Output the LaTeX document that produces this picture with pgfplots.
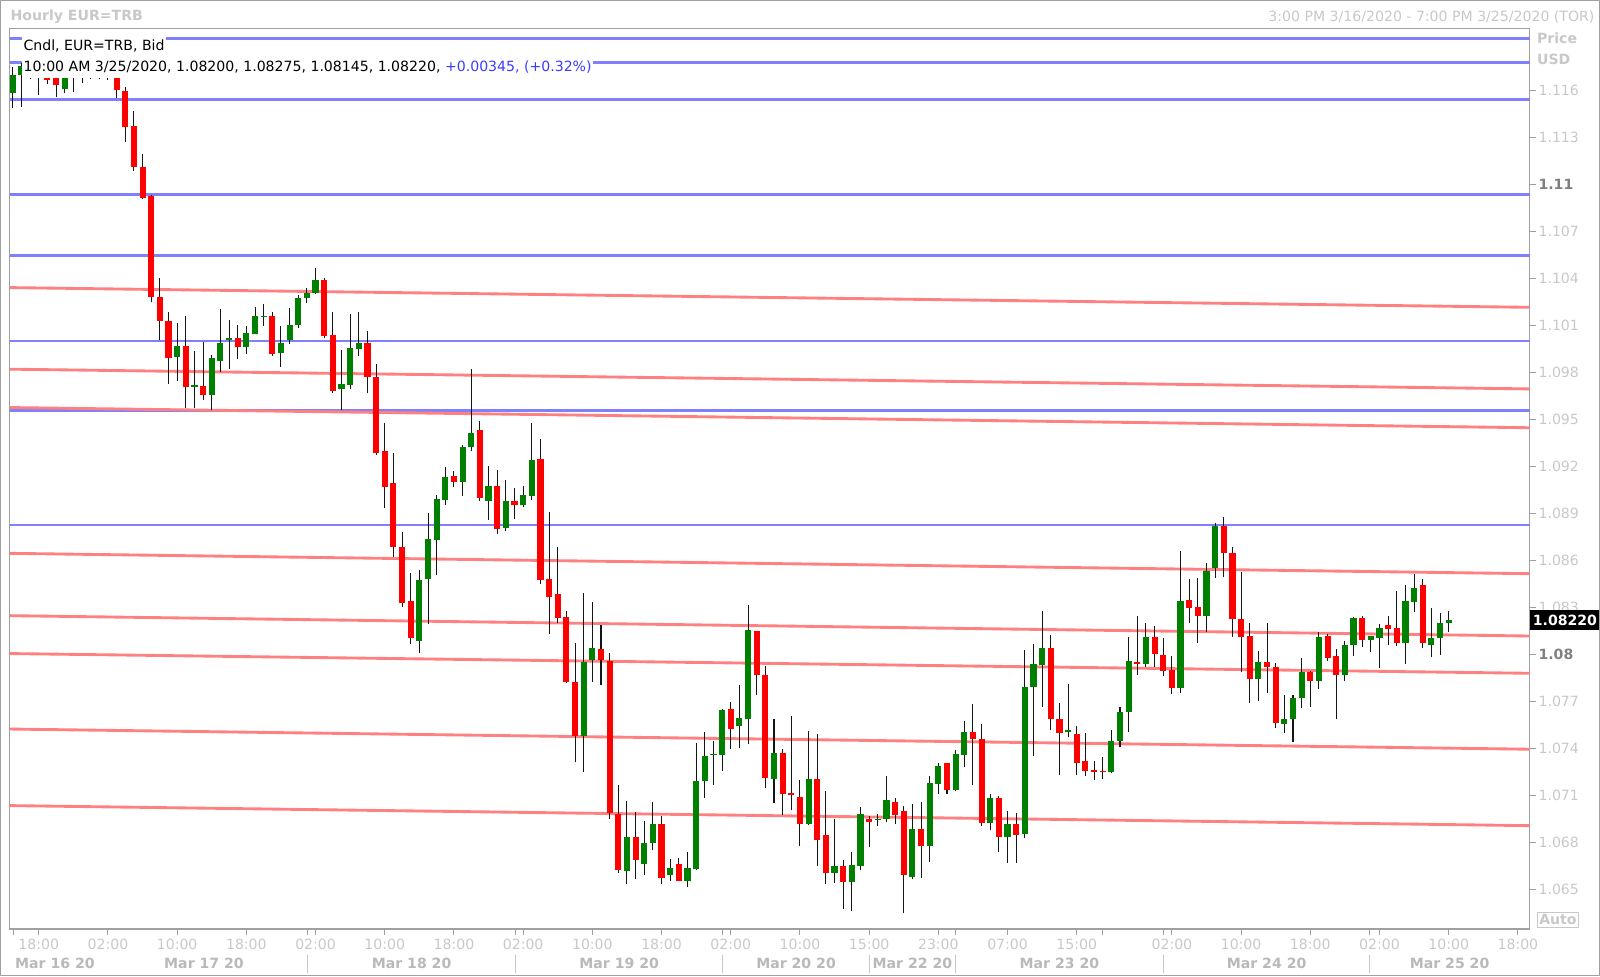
\documentclass[border=0pt]{standalone}
\usepackage{fontspec}
\setmainfont{DejaVu Sans}
\usepackage{pgfplots}
\usepackage{pgfplotstable}
\pgfplotsset{compat=1.18}

\definecolor{upc}{RGB}{0,128,0}
\definecolor{dnc}{RGB}{255,0,0}
\definecolor{wickc}{RGB}{20,20,20}
\definecolor{bline}{RGB}{128,128,255}
\definecolor{rline}{RGB}{255,128,128}
\definecolor{frame}{RGB}{160,160,160}
\definecolor{lbl}{RGB}{200,200,200}
\definecolor{lbldark}{RGB}{128,128,128}
\definecolor{datelbl}{RGB}{185,185,185}
\definecolor{pct}{RGB}{60,60,255}
\newcommand\fs{\fontsize{6.9pt}{8.3pt}\selectfont}

% hourly candles, i = hour index (0 = 18:00 Mar 16)
\pgfplotstableread{
i o h l c
-3 1.11588 1.11750 1.11493 1.11699
-2 1.11700 1.11780 1.11499 1.11755
-1 1.11720 1.11780 1.11677 1.11740
3 1.11610 1.11720 1.11585 1.11700
4 1.11700 1.11730 1.11589 1.11710
5 1.11710 1.11740 1.11649 1.11720
7 1.11710 1.11740 1.11677 1.11720
16 1.09901 1.10120 1.09747 1.09967
18 1.09711 1.09939 1.09571 1.09718
20 1.09658 1.09913 1.09562 1.09892
21 1.09877 1.10205 1.09807 1.09992
22 1.10009 1.10137 1.09822 1.10020
24 1.09962 1.10098 1.09919 1.10051
25 1.10047 1.10217 1.10045 1.10162
26 1.10158 1.10237 1.10100 1.10164
28 1.09928 1.10100 1.09839 1.09992
29 1.10009 1.10211 1.09981 1.10105
30 1.10105 1.10296 1.10088 1.10275
31 1.10275 1.10339 1.10243 1.10311
32 1.10307 1.10467 1.10301 1.10392
35 1.09694 1.09945 1.09562 1.09728
36 1.09721 1.10175 1.09694 1.09956
37 1.09949 1.10190 1.09907 1.09992
44 1.08088 1.08540 1.08008 1.08476
45 1.08480 1.08903 1.08195 1.08737
46 1.08734 1.09017 1.08510 1.08993
47 1.08989 1.09196 1.08957 1.09132
49 1.09102 1.09340 1.09015 1.09323
50 1.09323 1.09820 1.09298 1.09415
52 1.08983 1.09202 1.08861 1.09078
54 1.08808 1.09117 1.08787 1.08981
56 1.08957 1.09074 1.08940 1.09017
57 1.09015 1.09479 1.08989 1.09245
63 1.07477 1.08393 1.07250 1.07950
64 1.07963 1.08335 1.07825 1.08042
68 1.06615 1.07062 1.06536 1.06835
70 1.06662 1.06939 1.06594 1.06796
71 1.06796 1.07058 1.06749 1.06920
73 1.06594 1.06696 1.06551 1.06639
75 1.06551 1.06739 1.06515 1.06639
76 1.06632 1.07437 1.06626 1.07192
77 1.07190 1.07505 1.07086 1.07352
78 1.07356 1.07448 1.07165 1.07363
79 1.07360 1.07654 1.07256 1.07644
81 1.07541 1.07803 1.07403 1.07595
82 1.07586 1.08318 1.07426 1.08154
85 1.07203 1.07590 1.07054 1.07373
89 1.06915 1.07509 1.06909 1.07203
92 1.06605 1.06952 1.06541 1.06649
94 1.06547 1.06739 1.06362 1.06658
95 1.06649 1.07026 1.06622 1.06979
97 1.06941 1.06979 1.06905 1.06952
98 1.06947 1.07224 1.06930 1.07069
101 1.06579 1.07043 1.06568 1.06888
103 1.06777 1.07224 1.06675 1.07179
104 1.07171 1.07309 1.07111 1.07288
106 1.07133 1.07388 1.07126 1.07362
107 1.07360 1.07575 1.07282 1.07505
110 1.06926 1.07111 1.06877 1.07084
112 1.06835 1.06998 1.06671 1.06920
114 1.06856 1.08027 1.06828 1.07793
115 1.07793 1.08069 1.07352 1.07937
116 1.07931 1.08276 1.07665 1.08044
119 1.07505 1.07814 1.07473 1.07516
124 1.07247 1.07518 1.07241 1.07448
125 1.07450 1.07667 1.07411 1.07635
126 1.07635 1.08114 1.07507 1.07959
128 1.07939 1.08199 1.07922 1.08114
132 1.07788 1.08661 1.07756 1.08344
135 1.08246 1.08587 1.08146 1.08536
136 1.08550 1.08842 1.08491 1.08821
141 1.07844 1.08025 1.07705 1.07950
144 1.07556 1.07741 1.07501 1.07586
145 1.07586 1.07741 1.07443 1.07720
146 1.07720 1.07976 1.07656 1.07890
148 1.07833 1.08146 1.07778 1.08114
151 1.07869 1.08086 1.07831 1.08061
152 1.08059 1.08240 1.07991 1.08235
154 1.08091 1.08120 1.08018 1.08118
155 1.08108 1.08197 1.07916 1.08167
158 1.08071 1.08444 1.07937 1.08342
159 1.08338 1.08512 1.08274 1.08427
161 1.08059 1.08295 1.07986 1.08103
162 1.08108 1.08267 1.07997 1.08203
163 1.08200 1.08275 1.08145 1.08220
}\up

\pgfplotstableread{
i o h l c
0 1.11730 1.11770 1.11572 1.11710
1 1.11720 1.11745 1.11642 1.11670
2 1.11700 1.11720 1.11563 1.11636
6 1.11720 1.11750 1.11677 1.11710
8 1.11720 1.11740 1.11670 1.11700
9 1.11700 1.11720 1.11555 1.11602
10 1.11597 1.11621 1.11274 1.11370
11 1.11372 1.11472 1.11089 1.11114
12 1.11114 1.11195 1.10908 1.10912
13 1.10929 1.10935 1.10248 1.10280
14 1.10284 1.10407 1.10009 1.10131
15 1.10131 1.10188 1.09730 1.09896
17 1.09967 1.10162 1.09571 1.09711
19 1.09717 1.09998 1.09626 1.09658
23 1.10020 1.10105 1.09890 1.09962
27 1.10162 1.10186 1.09907 1.09917
33 1.10392 1.10403 1.10020 1.10034
34 1.10041 1.10190 1.09668 1.09683
38 1.09992 1.10068 1.09668 1.09775
39 1.09775 1.09856 1.09274 1.09289
40 1.09302 1.09481 1.08934 1.09072
41 1.09098 1.09289 1.08625 1.08685
42 1.08685 1.08785 1.08301 1.08331
43 1.08344 1.08519 1.08067 1.08108
48 1.09138 1.09170 1.09068 1.09102
51 1.09432 1.09494 1.08981 1.08997
53 1.09078 1.09181 1.08770 1.08804
55 1.08978 1.09064 1.08868 1.08953
58 1.09249 1.09379 1.08453 1.08478
59 1.08482 1.08910 1.08131 1.08367
60 1.08387 1.08685 1.08201 1.08233
61 1.08240 1.08276 1.07820 1.07825
62 1.07825 1.08074 1.07311 1.07477
65 1.08035 1.08186 1.07807 1.07963
66 1.07957 1.08010 1.06952 1.06988
67 1.06981 1.07169 1.06605 1.06622
69 1.06835 1.06994 1.06568 1.06690
72 1.06920 1.06969 1.06536 1.06575
74 1.06664 1.06703 1.06551 1.06555
80 1.07654 1.07697 1.07399 1.07526
83 1.08148 1.08150 1.07739 1.07867
84 1.07867 1.07927 1.07147 1.07213
86 1.07373 1.07394 1.06977 1.07111
87 1.07116 1.07607 1.07005 1.07101
88 1.07090 1.07201 1.06775 1.06915
90 1.07203 1.07490 1.06649 1.06813
91 1.06845 1.07126 1.06532 1.06605
93 1.06649 1.06686 1.06377 1.06547
96 1.06952 1.06969 1.06771 1.06930
99 1.07058 1.07084 1.06920 1.06973
100 1.06998 1.07033 1.06351 1.06594
102 1.06888 1.07058 1.06573 1.06777
105 1.07307 1.07310 1.07111 1.07137
108 1.07505 1.07686 1.07164 1.07463
109 1.07458 1.07558 1.06905 1.06926
111 1.07084 1.07096 1.06739 1.06835
113 1.06920 1.06988 1.06671 1.06849
117 1.08044 1.08123 1.07516 1.07586
118 1.07586 1.07692 1.07228 1.07501
120 1.07494 1.07543 1.07228 1.07309
121 1.07318 1.07501 1.07222 1.07256
122 1.07265 1.07318 1.07196 1.07250
123 1.07256 1.07348 1.07203 1.07248
127 1.07954 1.08246 1.07869 1.07939
129 1.08114 1.08184 1.07922 1.08001
130 1.07997 1.08103 1.07865 1.07895
131 1.07901 1.07991 1.07748 1.07788
133 1.08348 1.08480 1.08199 1.08295
134 1.08306 1.08487 1.08076 1.08246
137 1.08821 1.08880 1.08497 1.08650
138 1.08650 1.08685 1.08114 1.08225
139 1.08225 1.08529 1.07886 1.08114
140 1.08120 1.08199 1.07692 1.07844
142 1.07950 1.08199 1.07756 1.07918
143 1.07922 1.07944 1.07529 1.07560
147 1.07890 1.07892 1.07667 1.07833
149 1.08118 1.08130 1.07959 1.07976
150 1.07991 1.08033 1.07586 1.07869
153 1.08235 1.08246 1.08048 1.08091
156 1.08186 1.08246 1.08059 1.08161
157 1.08167 1.08406 1.08054 1.08076
160 1.08442 1.08480 1.08044 1.08071
}\down

\pgfplotsset{
  wick/.style={only marks, mark size=0pt, mark options={draw=none, fill=none},
    error bars/.cd, y dir=plus, y explicit,
    error mark=none, error bar style={line width=0.5pt, draw=wickc}},
  body/.style={only marks, mark size=0pt, mark options={draw=none, fill=none},
    error bars/.cd, y dir=plus, y explicit,
    error mark=none, error bar style={line width=3pt, draw=#1}},
}

\begin{document}
\begin{tikzpicture}[
  dl/.style={font=\fs\bfseries, text=datelbl, anchor=center, yshift=-16.8pt},
  sep/.style={draw=lbl, line width=0.5pt}]
\begin{axis}[
  scale only axis, width=744.25pt, height=441.15pt,
  xmin=-3.36, xmax=172.35, ymin=1.06246, ymax=1.11999,
  clip=false,
  axis line style={draw=frame, line width=0.75pt},
  xtick pos=left, ytick pos=right, yticklabel pos=right,
  tick align=outside, major tick length=3pt,
  every tick/.style={draw=frame, line width=0.5pt},
  xtick={-2.9,0,8,16,24,31.1,32,40,48,55.1,56,64,72,79.1,80,88,96,104,106,112,120,123,130,131,139,147,153.9,155,163,171},
  xticklabels={,18:00,02:00,10:00,18:00,,02:00,10:00,18:00,,02:00,10:00,18:00,,02:00,10:00,15:00,23:00,,07:00,15:00,,,02:00,10:00,18:00,,02:00,10:00,18:00},
  ytick={1.065,1.068,1.071,1.074,1.077,1.08,1.083,1.086,1.089,1.092,1.095,1.098,1.101,1.104,1.107,1.11,1.113,1.116},
  yticklabels={1.065,1.068,1.071,1.074,1.077,{\bfseries\textcolor{lbldark}{1.08}},1.083,1.086,1.089,1.092,1.095,1.098,1.101,1.104,1.107,{\bfseries\textcolor{lbldark}{1.11}},1.113,1.116},
  tick label style={font=\fs, text=lbl},
  xticklabel style={anchor=center, yshift=-4.6pt},
  yticklabel style={anchor=west, inner xsep=0pt, xshift=1.2pt},
]
% horizontal levels
\addplot[bline, line width=1.4pt] coordinates {(-3.36,1.11933) (172.35,1.11933)};
\addplot[bline, line width=1.4pt] coordinates {(-3.36,1.11780) (172.35,1.11780)};
\addplot[bline, line width=1.4pt] coordinates {(-3.36,1.11546) (172.35,1.11546)};
\addplot[bline, line width=1.4pt] coordinates {(-3.36,1.10940) (172.35,1.10940)};
\addplot[bline, line width=1.4pt] coordinates {(-3.36,1.10546) (172.35,1.10546)};
\addplot[bline, line width=1.4pt] coordinates {(-3.36,1.10002) (172.35,1.10002)};
\addplot[bline, line width=1.4pt] coordinates {(-3.36,1.09560) (172.35,1.09560)};
\addplot[bline, line width=1.4pt] coordinates {(-3.36,1.08827) (172.35,1.08827)};
% sloping levels
\addplot[rline, line width=1.4pt] coordinates {(-3.36,1.10343) (172.35,1.10217)};
\addplot[rline, line width=1.4pt] coordinates {(-3.36,1.09822) (172.35,1.09696)};
\addplot[rline, line width=1.4pt] coordinates {(-3.36,1.09577) (172.35,1.09448)};
\addplot[rline, line width=1.4pt] coordinates {(-3.36,1.08646) (172.35,1.08516)};
\addplot[rline, line width=1.4pt] coordinates {(-3.36,1.08248) (172.35,1.08118)};
\addplot[rline, line width=1.4pt] coordinates {(-3.36,1.08006) (172.35,1.07880)};
\addplot[rline, line width=1.4pt] coordinates {(-3.36,1.07524) (172.35,1.07395)};
\addplot[rline, line width=1.4pt] coordinates {(-3.36,1.07035) (172.35,1.06907)};
% candles: wick low->high, body from the lower of open/close
\addplot[wick] table[x=i, y=l, y error plus expr=\thisrow{h}-\thisrow{l}] {\up};
\addplot[wick] table[x=i, y=l, y error plus expr=\thisrow{h}-\thisrow{l}] {\down};
\addplot[body=upc] table[x=i, y=o, y error plus expr=\thisrow{c}-\thisrow{o}] {\up};
\addplot[body=dnc] table[x=i, y=c, y error plus expr=\thisrow{o}-\thisrow{c}] {\down};
% last price tag
\node[fill=black, text=white, font=\fs\bfseries, anchor=west, inner xsep=1.4pt,
  inner ysep=0pt, minimum height=9.5pt] at (axis cs:172.35,1.0822) {1.08220};
% day row
\node[dl] at (axis cs:1.87,1.06246) {Mar 16 20};
\node[dl] at (axis cs:19.1,1.06246) {Mar 17 20};
\node[dl] at (axis cs:43.1,1.06246) {Mar 18 20};
\node[dl] at (axis cs:67.1,1.06246) {Mar 19 20};
\node[dl] at (axis cs:87.55,1.06246) {Mar 20 20};
\node[dl] at (axis cs:101,1.06246) {Mar 22 20};
\node[dl] at (axis cs:118,1.06246) {Mar 23 20};
\node[dl] at (axis cs:141.95,1.06246) {Mar 24 20};
\node[dl] at (axis cs:163.1,1.06246) {Mar 25 20};
\draw[sep] (axis cs:31.1,1.06246) ++(0pt,-12.5pt) -- ++(0pt,-9pt);
\draw[sep] (axis cs:55.1,1.06246) ++(0pt,-12.5pt) -- ++(0pt,-9pt);
\draw[sep] (axis cs:79.1,1.06246) ++(0pt,-12.5pt) -- ++(0pt,-9pt);
\draw[sep] (axis cs:96,1.06246) ++(0pt,-12.5pt) -- ++(0pt,-9pt);
\draw[sep] (axis cs:106,1.06246) ++(0pt,-12.5pt) -- ++(0pt,-9pt);
\draw[sep] (axis cs:130,1.06246) ++(0pt,-12.5pt) -- ++(0pt,-9pt);
\draw[sep] (axis cs:153.9,1.06246) ++(0pt,-12.5pt) -- ++(0pt,-9pt);
\end{axis}
\node[anchor=west, font=\fs\bfseries, text=lbl, inner sep=0pt] at (0.25pt,446.8pt) {Hourly EUR=TRB};
\node[anchor=east, font=\fs, text=lbl, inner sep=0pt] at (776.25pt,446.8pt) {3:00 PM 3/16/2020 - 7:00 PM 3/25/2020 (TOR)};
\node[anchor=west, fill=white, font=\fs, inner xsep=0.6pt, inner ysep=1.8pt,
  text height=5.3pt, text depth=1.5pt] at (6pt,432.3pt) {Cndl, EUR=TRB, Bid};
\node[anchor=west, fill=white, font=\fs, inner xsep=0.6pt, inner ysep=1.8pt,
  text height=5.3pt, text depth=1.5pt] at (6pt,421.9pt)
  {10:00 AM 3/25/2020, 1.08200, 1.08275, 1.08145, 1.08220, \textcolor{pct}{+0.00345, (+0.32\%)}};
\node[anchor=west, font=\fs\bfseries, text=lbl, inner sep=0pt] at (747.75pt,436.5pt) {Price};
\node[anchor=west, font=\fs\bfseries, text=lbl, inner sep=0pt] at (747.75pt,426pt) {USD};
\node[anchor=south west, draw=lbl, line width=0.5pt, font=\fs\bfseries, text=lbl,
  inner xsep=1pt, inner ysep=1.2pt] at (747.75pt,0.5pt) {Auto};
\pgfresetboundingbox
\path[use as bounding box] (-4.75pt,-23pt) rectangle (778.75pt,455pt);
\draw[frame, line width=0.6pt] (-4.45pt,-22.7pt) rectangle (778.45pt,454.7pt);
\end{tikzpicture}
\end{document}
